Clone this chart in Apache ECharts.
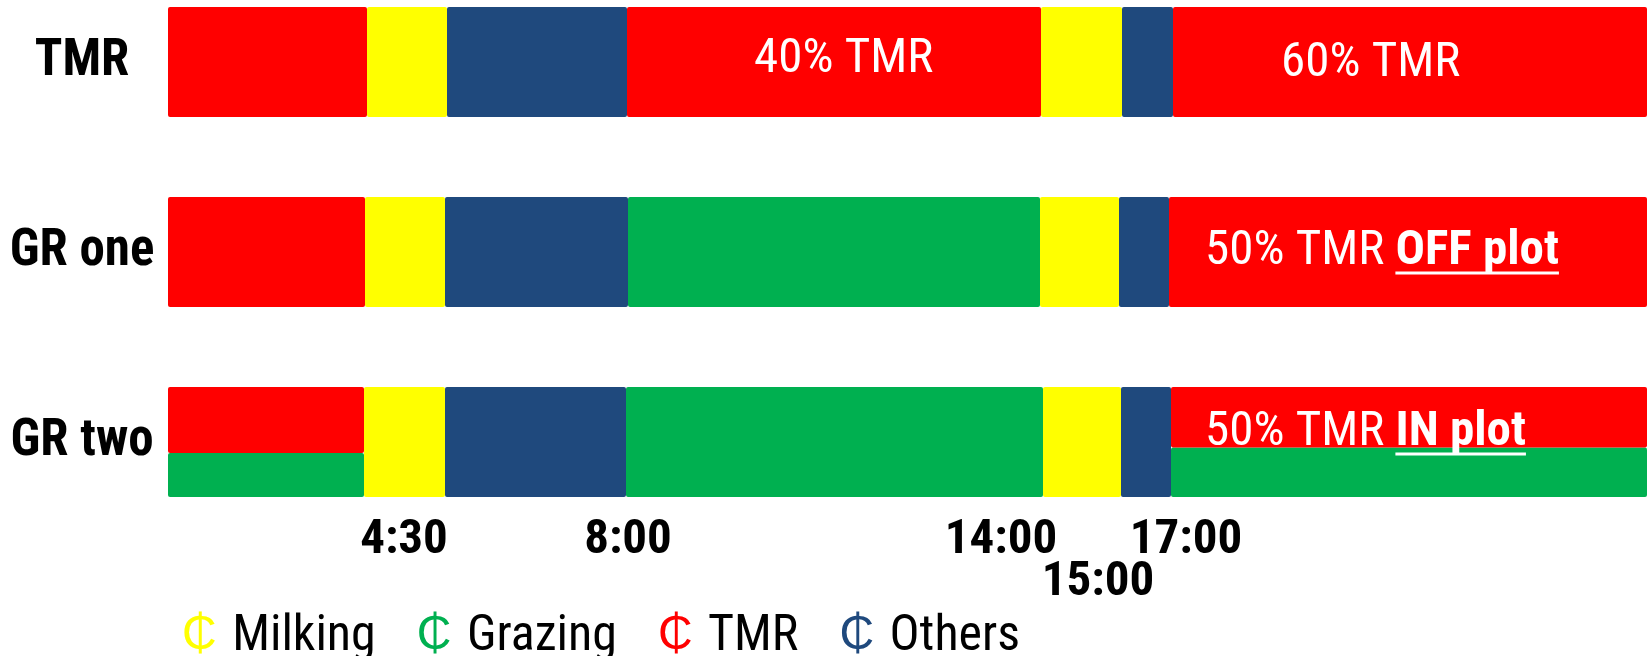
<!DOCTYPE html>
<html>
<head>
<meta charset="utf-8">
<title>Daily activity schedule</title>
<script src="https://cdn.jsdelivr.net/npm/echarts@6/dist/echarts.min.js"></script>
<style>
  html, body { margin: 0; padding: 0; background: #fff; }
  #chart { width: 1647px; height: 656px; }
</style>
</head>
<body>
<div id="chart"></div>
<script>
// Groups, one bar each (top to bottom)
const rowLabels = ['TMR', 'GR one', 'GR two'];

// Activity spans along the day (schematic units), left to right
const tmrSpans   = [19.9, 8.0, 18.0, 41.4, 8.1, 5.1, 47.4];
const tmrActs    = ['TMR', 'Milking', 'Others', 'TMR', 'Milking', 'Others', 'TMR'];
const grOneSpans = [19.7, 8.0, 18.3, 41.2, 7.9, 5.0, 47.8];
const grOneActs  = ['TMR', 'Milking', 'Others', 'Grazing', 'Milking', 'Others', 'TMR'];
const grTwoSpans = [19.6, 8.1, 18.1, 41.7, 7.8, 5.0, 47.6];
const grTwoActs  = ['TMR+Grazing', 'Milking', 'Others', 'Grazing', 'Milking', 'Others', 'TMR+Grazing'];
// Share of bar height taken by TMR in the mixed TMR / grazing spans of GR two
const grTwoTmrShare = [0.6, 0.55];

// Clock times marked under the bars (15:00 sits on a second line)
const timeLabels  = ['4:30', '8:00', '14:00', '17:00'];
const timeTicks   = [23.6, 46.0, 83.3, 101.8];
const lowerLabels = ['15:00'];
const lowerTicks  = [93.0];

// Notes written inside the bars
const notePlain = ['40% TMR', '60% TMR', '50% TMR ', '50% TMR '];
const noteBold  = ['', '', 'OFF plot', 'IN plot'];
const noteRows  = [0, 0, 1, 2];
const noteAt    = [58.6, 111.3, 103.7, 103.7];

const activities = ['Milking', 'Grazing', 'TMR', 'Others'];
const colors = { Milking: '#FFFF00', Grazing: '#00B050', TMR: '#FF0000', Others: '#1F497D' };
const FONT = '"Roboto Condensed", "Open Sans Condensed", "Liberation Sans", sans-serif';
const SPAN_MAX = 147.9;
const BAR_PX = 110;

// Build [start, end, row, fracTop, fracBottom] items per activity
const segs = { Milking: [], Grazing: [], TMR: [], Others: [] };
function addRow(spans, acts, row) {
  let x = 0, mixed = 0;
  spans.forEach((w, i) => {
    const a = acts[i];
    if (a === 'TMR+Grazing') {
      const s = grTwoTmrShare[mixed++];
      segs.TMR.push([x, x + w, row, 0, s]);
      segs.Grazing.push([x, x + w, row, s, 1]);
    } else {
      segs[a].push([x, x + w, row, 0, 1]);
    }
    x += w;
  });
}
addRow(tmrSpans, tmrActs, 0);
addRow(grOneSpans, grOneActs, 1);
addRow(grTwoSpans, grTwoActs, 2);

function segRenderer(color) {
  return function (params, api) {
    const p0 = api.coord([api.value(0), api.value(2)]);
    const p1 = api.coord([api.value(1), api.value(2)]);
    const h = BAR_PX;
    const top = p0[1] - h / 2;
    const f0 = api.value(3), f1 = api.value(4);
    return {
      type: 'rect',
      shape: { x: p0[0], y: top + f0 * h, width: p1[0] - p0[0], height: (f1 - f0) * h, r: 2 },
      style: { fill: color }
    };
  };
}

// Text measuring for the underlined words
const measureCtx = document.createElement('canvas').getContext('2d');
function textWidth(str, weight, size) {
  measureCtx.font = weight + ' ' + size + 'px ' + FONT;
  return measureCtx.measureText(str).width;
}
const NOTE_SIZE = 49;
const noteShift = [-2, 2, 0, -9];

const series = activities.map(a => ({
  name: a,
  type: 'custom',
  coordinateSystem: 'cartesian2d',
  renderItem: segRenderer(colors[a]),
  encode: { x: [0, 1], y: 2 },
  data: segs[a],
  z: 2
}));

series.push({
  name: 'notes',
  type: 'custom',
  coordinateSystem: 'cartesian2d',
  encode: { x: 0, y: 1 },
  data: noteAt.map((x, i) => [x, noteRows[i], i]),
  z: 5,
  silent: true,
  renderItem: function (params, api) {
    const i = api.value(2);
    const p = api.coord([api.value(0), api.value(1)]);
    const y = p[1] + noteShift[i];
    const children = [{
      type: 'text',
      x: p[0], y: y,
      style: {
        text: '{n|' + notePlain[i] + '}' + (noteBold[i] ? '{b|' + noteBold[i] + '}' : ''),
        align: 'left', verticalAlign: 'middle',
        fill: '#fff',
        rich: {
          n: { fontSize: NOTE_SIZE, fontFamily: FONT, fill: '#fff' },
          b: { fontSize: NOTE_SIZE, fontFamily: FONT, fontWeight: 'bold', fill: '#fff' }
        }
      }
    }];
    if (noteBold[i]) {
      const x0 = p[0] + textWidth(notePlain[i], 'normal', NOTE_SIZE);
      const w = textWidth(noteBold[i], 'bold', NOTE_SIZE);
      children.push({
        type: 'rect',
        shape: { x: x0, y: y + NOTE_SIZE * 0.355 + 2, width: w, height: 3 },
        style: { fill: '#fff' }
      });
    }
    return { type: 'group', children: children };
  }
});

function timeAxis(ticks, labels, margin) {
  return {
    type: 'value',
    gridIndex: 0,
    position: 'bottom',
    min: 0,
    max: SPAN_MAX,
    axisLine: { show: false },
    axisTick: { show: false },
    splitLine: { show: false },
    axisLabel: {
      customValues: ticks,
      formatter: function (v) {
        let best = 0;
        ticks.forEach((t, i) => { if (Math.abs(t - v) < Math.abs(ticks[best] - v)) best = i; });
        return labels[best];
      },
      margin: margin,
      lineHeight: 50,
      fontSize: 49,
      fontWeight: 'bold',
      fontFamily: FONT,
      color: '#000',
      hideOverlap: false,
      showMinLabel: true,
      showMaxLabel: true
    }
  };
}

const symbolStyle = c => ({ color: c, fontSize: 48, fontFamily: FONT, padding: [0, 4, 0, 0] });

const chart = echarts.init(document.getElementById('chart'), null, { renderer: 'canvas' });
chart.setOption({
  animation: false,
  backgroundColor: '#fff',
  grid: { left: 168, right: 0, top: 0, bottom: 119 },
  xAxis: [
    timeAxis(timeTicks, timeLabels, -21),
    timeAxis(lowerTicks, lowerLabels, 21)
  ],
  yAxis: {
    type: 'value',
    inverse: true,
    min: -0.3263,
    max: 2.5,
    axisLine: { show: false },
    axisTick: { show: false },
    splitLine: { show: false },
    axisLabel: {
      customValues: [0, 1, 2],
      formatter: function (v) { return rowLabels[Math.round(v)] || ''; },
      align: 'center',
      margin: 86,
      fontSize: 51,
      fontWeight: 'bold',
      fontFamily: FONT,
      color: '#000',
      hideOverlap: false
    }
  },
  legend: {
    data: activities,
    left: 172,
    top: 607,
    itemWidth: 0,
    itemHeight: 0,
    itemGap: 36,
    selectedMode: false,
    formatter: function (name) {
      const key = { Milking: 'm', Grazing: 'g', TMR: 't', Others: 'o' }[name];
      return '{' + key + '|\u20B5} ' + name;
    },
    textStyle: {
      fontSize: 50,
      lineHeight: 50,
      fontFamily: FONT,
      color: '#000',
      rich: {
        m: symbolStyle(colors.Milking),
        g: symbolStyle(colors.Grazing),
        t: symbolStyle(colors.TMR),
        o: symbolStyle(colors.Others)
      }
    }
  },
  series: series
});
</script>
</body>
</html>
